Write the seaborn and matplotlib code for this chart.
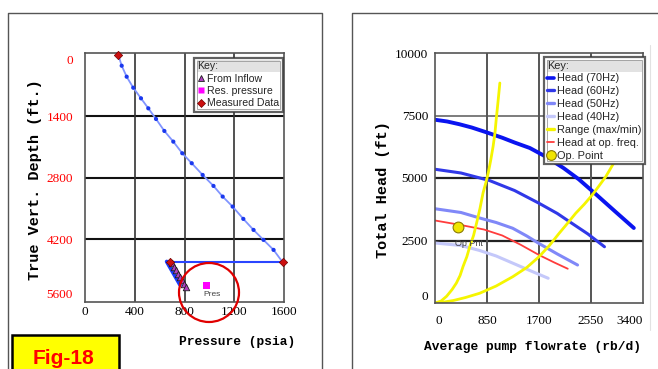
import matplotlib
matplotlib.use("Agg")
import matplotlib.pyplot as plt
import seaborn as sns
from matplotlib.lines import Line2D
from matplotlib.patches import Rectangle, Ellipse

# ---------------- Left panel data (pressure vs depth) ----------------
tvd_pres = [268, 295, 335, 388, 450, 509, 571, 638, 710, 782, 858, 946, 1033,
            1107, 1187, 1273, 1355, 1435, 1516, 1589]
tvd_depth = [0, 248, 498, 749, 990, 1218, 1461, 1734, 1977, 2242, 2469, 2736,
             2986, 3229, 3457, 3737, 3988, 4215, 4443, 4723]
meas_pres = [268, 1589, 683]
meas_depth = [0, 4723, 4723]
bh_line_pres = [683, 1589]
bh_line_depth = [4723, 4723]
pwf_pres = [657, 764]
pwf_depth = [4709, 5239]
inflow_pres = [700, 716, 732, 748, 764, 780, 796, 810]
inflow_depth = [4750, 4828, 4906, 4984, 5062, 5140, 5218, 5292]
res_pres = [980]
res_depth = [5255]
left_xticks = [0, 400, 800, 1200, 1600]
left_yticks = [0, 1400, 2800, 4200, 5600]
left_labels = ["From Inflow", "Res. pressure", "Measured Data"]

# ---------------- Right panel data (pump curves) ----------------
q70 = [0, 200, 400, 600, 850, 1100, 1300, 1550, 1800, 2100, 2350, 2630, 2950, 3250]
h70 = [7330, 7260, 7150, 7020, 6820, 6610, 6420, 6200, 5870, 5400, 4950, 4350,
       3650, 3000]
q60 = [0, 425, 890, 1300, 1700, 2000, 2200, 2500, 2770]
h60 = [5350, 5200, 4900, 4500, 3990, 3580, 3250, 2760, 2250]
q50 = [0, 425, 730, 1000, 1270, 1500, 1700, 2000, 2330]
h50 = [3770, 3620, 3400, 3220, 2990, 2680, 2380, 1960, 1520]
q40 = [0, 425, 730, 1000, 1275, 1550, 1850]
h40 = [2400, 2300, 2100, 1880, 1590, 1300, 990]
q_op = [0, 400, 800, 1100, 1400, 1700, 1950, 2170]
h_op = [3300, 3130, 2940, 2700, 2330, 1920, 1620, 1370]
q_min = [0, 100, 190, 280, 350, 410, 460, 520, 570, 630, 680, 735, 785, 830,
         870, 910, 950, 980, 1000, 1030, 1060]
h_min = [0, 80, 270, 540, 800, 1100, 1470, 1850, 2270, 2700, 3200, 3780, 4400,
         4800, 5200, 5700, 6270, 6800, 7330, 8050, 8800]
q_max = [0, 150, 300, 500, 730, 1000, 1270, 1500, 1700, 1870, 2030, 2170, 2300,
         2440, 2570, 2680, 2790, 2870, 2950, 3030, 3100]
h_max = [0, 40, 100, 220, 390, 680, 1050, 1420, 1850, 2300, 2790, 3200, 3590,
         3950, 4320, 4680, 5050, 5380, 5720, 6100, 6500]
op_q = [379]
op_h = [3028]
right_xticks = [0, 850, 1700, 2550, 3400]
right_yticks = [0, 2500, 5000, 7500, 10000]
right_labels = ["Head (70Hz)", "Head (60Hz)", "Head (50Hz)", "Head (40Hz)",
                "Range (max/min)", "Head at op. freq.", "Op. Point"]

sns.set_theme(style="white")
plt.rcParams["font.family"] = ["DejaVu Sans"]

W, H = 658, 369
fig = plt.figure(figsize=(W / 100, H / 100), dpi=100)
fig.patch.set_facecolor("white")


def fx(px):
    return px / W


def fy(py):
    return 1 - py / H


axL = fig.add_axes([fx(85), fy(302), (284 - 85) / W, (302 - 53.3) / H])
axR = fig.add_axes([fx(435), fy(303), (643 - 435) / W, (303 - 53) / H])

serif = "Liberation Serif"
mono = "Liberation Mono"
sans = "Liberation Sans"

# ---------------- Left panel ----------------
for v in left_yticks[1:-1]:
    axL.axhline(v, color="#111111", lw=1.5, zorder=0.5)
for v in left_xticks[1:-1]:
    axL.axvline(v, color="#333333", lw=1.2, zorder=0.5)

sns.lineplot(x=tvd_pres, y=tvd_depth, ax=axL, sort=False, estimator=None,
             color="#8094ff", lw=1.3, zorder=2)
sns.scatterplot(x=tvd_pres[1:-1], y=tvd_depth[1:-1], ax=axL, color="#1a38ee",
                s=9, edgecolor="none", zorder=3)
sns.lineplot(x=bh_line_pres, y=bh_line_depth, ax=axL, sort=False, estimator=None,
             color="#2a45ff", lw=1.5, zorder=2)
sns.lineplot(x=pwf_pres, y=pwf_depth, ax=axL, sort=False, estimator=None,
             color="#1a3cff", lw=2.8, zorder=2)
sns.scatterplot(x=inflow_pres, y=inflow_depth, ax=axL, marker="^",
                color="#b040c0", edgecolor="#202020", linewidth=0.6, s=22, zorder=4)
sns.scatterplot(x=meas_pres, y=meas_depth, ax=axL, marker="D", color="#cc1010",
                edgecolor="#700000", linewidth=0.5, s=18, zorder=5, clip_on=False)
sns.scatterplot(x=res_pres, y=res_depth, ax=axL, marker="s", color="#ff00ff",
                edgecolor="none", s=24, zorder=4)
axL.text(1024, 5390, "Pres", fontsize=6, color="#444444", ha="center", va="top",
         family=sans, clip_on=True)

axL.set_xlim(0, 1600)
axL.set_ylim(5630, -35)
axL.set_xticks(left_xticks)
axL.set_yticks(left_yticks)
axL.set_xticklabels([str(v) for v in left_xticks], family=serif, fontsize=9.5,
                    color="black")
axL.set_yticklabels([str(v) for v in left_yticks], family=serif, fontsize=9.5,
                    color="#ff0000")
axL.tick_params(axis="x", length=0, pad=3.2)
axL.tick_params(axis="y", length=0, pad=8.6)
ylabs = axL.get_yticklabels()
ylabs[0].set_va("top")
ylabs[-1].set_va("bottom")
axL.set_xlabel("Pressure (psia)", family=mono, fontweight="bold", fontsize=9.3,
               color="black")
axL.set_ylabel("True Vert. Depth (ft.)", family=mono, fontweight="bold",
               fontsize=11, color="black")
axL.xaxis.set_label_coords((237.5 - 85) / 199, (302 - 342) / 248.7)
axL.xaxis.label.set_va("center")
axL.yaxis.set_label_coords((35 - 85) / 199, (302 - 180) / 248.7)
axL.yaxis.label.set_va("center")

handlesL = [
    Line2D([], [], ls="none", marker="^", mfc="#b040c0", mec="#202020", mew=0.6,
           ms=5, label=left_labels[0]),
    Line2D([], [], ls="none", marker="s", mfc="#ff00ff", mec="none", ms=4.5,
           label=left_labels[1]),
    Line2D([], [], ls="none", marker="D", mfc="#cc1010", mec="#700000", mew=0.5,
           ms=4, label=left_labels[2]),
]
legL = axL.legend(handles=handlesL, title="Key:", loc="upper right",
                  bbox_to_anchor=(0.9935, 0.98), borderaxespad=0, fancybox=False,
                  prop={"family": sans, "size": 7.6},
                  title_fontproperties={"family": sans, "size": 7.6},
                  alignment="left", handlelength=0.6, handletextpad=0.35,
                  labelspacing=0.22, borderpad=0.3)
legL.get_frame().set_facecolor("none")
legL.get_frame().set_edgecolor("#3a3a3a")
legL.get_frame().set_linewidth(1.6)

# ---------------- Right panel ----------------
for v in right_yticks[1:-1]:
    if v == 7500:
        axR.axhline(v, color="#666666", lw=1.2, zorder=0.5)
    else:
        axR.axhline(v, color="#222222", lw=1.6, zorder=0.5)
for v in right_xticks[1:-1]:
    axR.axvline(v, color="#555555", lw=1.4, zorder=0.5)

c70, c60, c50, c40 = "#0a14f0", "#3038e8", "#8088f8", "#c4c8fa"
cy, cr = "#f5f500", "#ff3c3c"
sns.lineplot(x=q40, y=h40, ax=axR, sort=False, estimator=None, color=c40, lw=2.2)
sns.lineplot(x=q50, y=h50, ax=axR, sort=False, estimator=None, color=c50, lw=2.2)
sns.lineplot(x=q60, y=h60, ax=axR, sort=False, estimator=None, color=c60, lw=2.2)
sns.lineplot(x=q70, y=h70, ax=axR, sort=False, estimator=None, color=c70, lw=2.8)
sns.lineplot(x=q_op, y=h_op, ax=axR, sort=False, estimator=None, color=cr, lw=1.3)
sns.lineplot(x=q_min, y=h_min, ax=axR, sort=False, estimator=None, color=cy, lw=2.0)
sns.lineplot(x=q_max, y=h_max, ax=axR, sort=False, estimator=None, color=cy, lw=2.0)
sns.scatterplot(x=op_q, y=op_h, ax=axR, color="#f0e400", edgecolor="#8a7a00",
                linewidth=0.8, s=60, zorder=4)
axR.text(552, 2380, "Op Pnt", fontsize=6.5, color="#444444", ha="center",
         va="center", family=sans, zorder=4)

axR.set_xlim(0, 3400)
axR.set_ylim(0, 10000)
axR.set_xticks(right_xticks)
axR.set_yticks(right_yticks)
axR.set_xticklabels([str(v) for v in right_xticks], family=serif, fontsize=9.5,
                    color="black")
axR.set_yticklabels([str(v) for v in right_yticks], family=serif, fontsize=9.5,
                    color="black")
axR.tick_params(axis="x", length=0, pad=9)
axR.tick_params(axis="y", length=0, pad=5)
xl = axR.get_xticklabels()
xl[0].set_ha("left")
xl[-1].set_ha("right")
yl = axR.get_yticklabels()
yl[0].set_va("bottom")
axR.set_xlabel("Average pump flowrate (rb/d)", family=mono, fontweight="bold",
               fontsize=9.3, color="black")
axR.set_ylabel("Total Head (ft)", family=mono, fontweight="bold", fontsize=11,
               color="black")
axR.xaxis.set_label_coords((533 - 435) / 208, (303 - 347) / 250)
axR.xaxis.label.set_va("center")
axR.yaxis.set_label_coords((383 - 435) / 208, (303 - 190) / 250)
axR.yaxis.label.set_va("center")

handlesR = [
    Line2D([], [], color=c70, lw=2.6, label=right_labels[0]),
    Line2D([], [], color=c60, lw=2.4, label=right_labels[1]),
    Line2D([], [], color=c50, lw=2.4, label=right_labels[2]),
    Line2D([], [], color=c40, lw=2.4, label=right_labels[3]),
    Line2D([], [], color=cy, lw=2.4, label=right_labels[4]),
    Line2D([], [], color=cr, lw=1.3, label=right_labels[5]),
    Line2D([], [], ls="none", marker="o", mfc="#f0e400", mec="#8a7a00", mew=0.8,
           ms=7, label=right_labels[6]),
]
legR = axR.legend(handles=handlesR, title="Key:", loc="upper right",
                  bbox_to_anchor=(1.0096, 0.983), borderaxespad=0, fancybox=False,
                  prop={"family": sans, "size": 7.9},
                  title_fontproperties={"family": sans, "size": 7.9},
                  alignment="left", handlelength=0.6, handletextpad=0.3,
                  labelspacing=0.26, borderpad=0.3)
legR.get_frame().set_facecolor("none")
legR.get_frame().set_edgecolor("#3a3a3a")
legR.get_frame().set_linewidth(1.6)

for ax in (axL, axR):
    ax.set_facecolor("white")
    for s in ax.spines.values():
        s.set_color("#555555")
        s.set_linewidth(1.2)

# ---------------- Panel frames, annotations ----------------
fig.add_artist(Line2D([fx(7.5), fx(7.5), fx(322), fx(322)],
                      [fy(380), fy(12.7), fy(12.7), fy(380)],
                      color="#555555", lw=1.0, transform=fig.transFigure))
fig.add_artist(Line2D([fx(351.7), fx(351.7), fx(665)],
                      [fy(380), fy(13), fy(13)],
                      color="#555555", lw=1.0, transform=fig.transFigure))
fig.add_artist(Line2D([fx(650), fx(650)], [fy(45), fy(330)], color="#e2e2e2",
                      lw=0.8, transform=fig.transFigure))
fig.add_artist(Ellipse((fx(209), fy(292.5)), 60 / W, 59 / H,
                       transform=fig.transFigure, fill=False,
                       edgecolor="#e00000", lw=1.6))
fig.add_artist(Rectangle((fx(11.7), fy(380)), (119 - 11.7) / W, (380 - 335) / H,
                         transform=fig.transFigure, facecolor="#ffff00",
                         edgecolor="black", lw=1.8))
fig.text(fx(63), fy(363.5), "Fig-18", color="#ff0000", fontsize=15,
         fontweight="bold", family=sans, ha="center", va="baseline")

# legend backgrounds with gray title band
fig.canvas.draw()
for ax, leg in ((axL, legL), (axR, legR)):
    bb = leg.get_frame().get_window_extent()
    tb = leg.get_title().get_window_extent()
    inv = ax.transAxes.inverted()
    (x0, y0), (x1, y1) = inv.transform([[bb.x0, bb.y0], [bb.x1, bb.y1]])
    ax.add_patch(Rectangle((x0, y0), x1 - x0, y1 - y0, transform=ax.transAxes,
                           facecolor="white", edgecolor="none", zorder=4.5,
                           clip_on=False))
    (a0, b0), (a1, b1) = inv.transform([[bb.x0 + 3, tb.y0 - 1],
                                        [bb.x1 - 3, tb.y1 + 1]])
    ax.add_patch(Rectangle((a0, b0), a1 - a0, b1 - b0, transform=ax.transAxes,
                           facecolor="#e2e2e2", edgecolor="none", zorder=4.6,
                           clip_on=False))
    (c0, d0), (c1, d1) = inv.transform([[bb.x0 + 2.5, bb.y0 + 2.5],
                                        [bb.x1 - 2.5, bb.y1 - 2.5]])
    ax.add_patch(Rectangle((c0, d0), c1 - c0, d1 - d0, transform=ax.transAxes,
                           facecolor="none", edgecolor="#9a9a9a", lw=0.6,
                           zorder=4.7, clip_on=False))

fig.savefig("out.png", dpi=100, facecolor="white")
